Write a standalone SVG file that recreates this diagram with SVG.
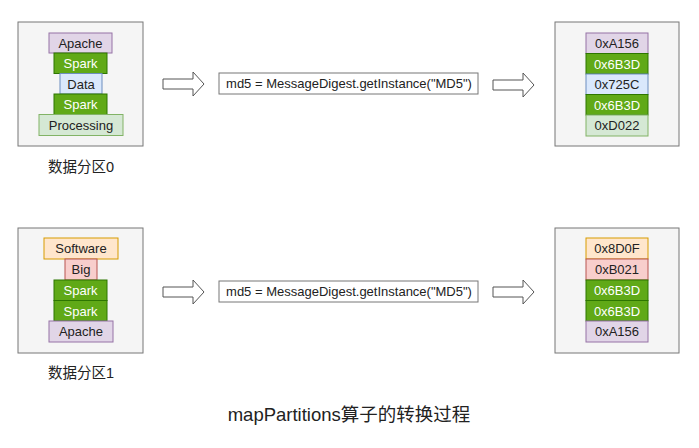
<svg xmlns="http://www.w3.org/2000/svg" width="699" height="448" viewBox="0 0 699 448">
<style>
.c{fill:#f5f5f5;stroke:#777;stroke-width:1}
.b{stroke-width:1}
.pu{fill:#e1d5e7;stroke:#9673a6}
.gr{fill:#60a917;stroke:#2d7600}
.bl{fill:#dae8fc;stroke:#6c8ebf}
.lg{fill:#d5e8d4;stroke:#82b366}
.or{fill:#ffe6cc;stroke:#d79b00}
.rd{fill:#f8cecc;stroke:#b85450}
text{font-family:"Liberation Sans","Noto Sans CJK SC",sans-serif;text-anchor:middle;dominant-baseline:central;font-size:13px;fill:#222}
.w{fill:#fff}
.lbl{font-size:14.5px}
.code{fill:#fff;stroke:#777}
.arr{fill:#fff;stroke:#555;stroke-width:1}
.title{font-size:18.5px}
</style>
<defs>
<path id="arw" d="M0,-5 H30 V-12 L41,0 L30,12 V5 H0 Z"/>
</defs>

<g id="partition0">
<rect class="c" x="18" y="22" width="125" height="124"/>
<rect class="b pu" x="49" y="33" width="63" height="20"/><text x="80.5" y="43">Apache</text>
<rect class="b gr" x="54" y="53" width="53" height="20.5"/><text class="w" x="80.5" y="63.5">Spark</text>
<rect class="b bl" x="60" y="73.5" width="42" height="20.5"/><text x="81" y="84">Data</text>
<rect class="b gr" x="54" y="94" width="53" height="20.5"/><text class="w" x="80.5" y="104.5">Spark</text>
<rect class="b lg" x="39" y="114.5" width="84" height="21"/><text x="81" y="125">Processing</text>
<text class="lbl" x="81" y="167">数据分区0</text>
</g>

<g id="md5_0">
<rect class="code" x="219" y="73" width="259" height="21"/>
<text x="349" y="83.5" font-size="13.6">md5 = MessageDigest.getInstance("MD5")</text>
</g>

<g id="result0">
<rect class="c" x="555" y="22" width="124" height="124"/>
<rect class="b pu" x="586" y="33" width="62" height="20.5"/><text x="617" y="43.5">0xA156</text>
<rect class="b gr" x="586" y="53.5" width="62" height="20.5"/><text class="w" x="617" y="64">0x6B3D</text>
<rect class="b bl" x="586" y="74" width="62" height="20.5"/><text x="617" y="84.5">0x725C</text>
<rect class="b gr" x="586" y="94.5" width="62" height="20.5"/><text class="w" x="617" y="105">0x6B3D</text>
<rect class="b lg" x="586" y="115" width="62" height="21"/><text x="617" y="125.5">0xD022</text>
</g>

<g id="partition1">
<rect class="c" x="18" y="228" width="125" height="125"/>
<rect class="b or" x="44" y="238" width="74" height="21"/><text x="81" y="248.5">Software</text>
<rect class="b rd" x="65" y="259" width="32" height="21"/><text x="81" y="269.5">Big</text>
<rect class="b gr" x="54" y="280" width="53" height="20.5"/><text class="w" x="80.5" y="290.5">Spark</text>
<rect class="b gr" x="54" y="300.5" width="53" height="20.5"/><text class="w" x="80.5" y="311">Spark</text>
<rect class="b pu" x="49" y="321" width="64" height="21"/><text x="81" y="331.5">Apache</text>
<text class="lbl" x="81" y="373">数据分区1</text>
</g>

<g id="md5_1">
<rect class="code" x="219" y="281" width="259" height="21"/>
<text x="349" y="291.5" font-size="13.6">md5 = MessageDigest.getInstance("MD5")</text>
</g>

<g id="result1">
<rect class="c" x="555" y="228" width="124" height="125"/>
<rect class="b or" x="586" y="238" width="62" height="21"/><text x="617" y="248.5">0x8D0F</text>
<rect class="b rd" x="586" y="259" width="62" height="21"/><text x="617" y="269.5">0xB021</text>
<rect class="b gr" x="586" y="280" width="62" height="20.5"/><text class="w" x="617" y="290.5">0x6B3D</text>
<rect class="b gr" x="586" y="300.5" width="62" height="20.5"/><text class="w" x="617" y="311">0x6B3D</text>
<rect class="b pu" x="586" y="321" width="62" height="21"/><text x="617" y="331.5">0xA156</text>
</g>

<g id="connectors">
<use href="#arw" class="arr" x="163" y="84"/>
<use href="#arw" class="arr" x="493" y="85"/>
<use href="#arw" class="arr" x="163" y="292"/>
<use href="#arw" class="arr" x="493" y="292"/>
</g>

<g id="title">
<text class="title" x="349" y="414">mapPartitions算子的转换过程</text>
</g>
</svg>
